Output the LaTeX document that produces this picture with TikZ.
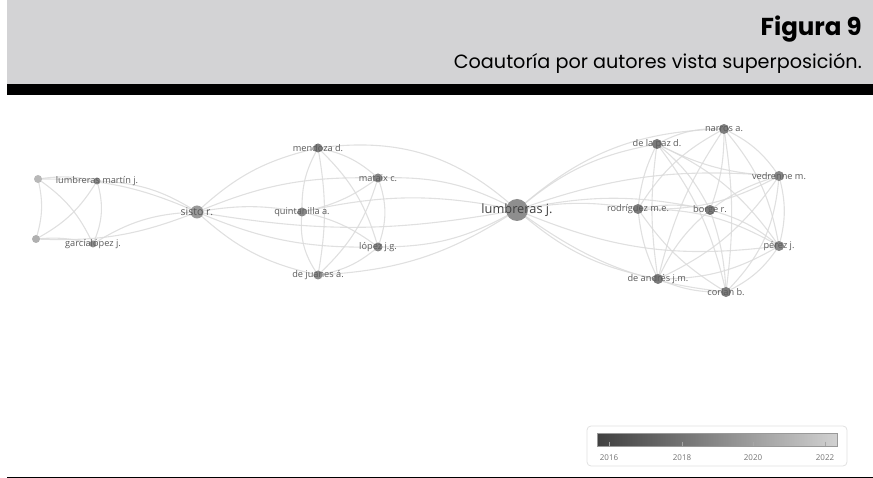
\documentclass[tikz,border=0pt]{standalone}
\usepackage{fontspec}
\setmainfont{Open Sans}
\newfontfamily\capfont{Poppins}
\usetikzlibrary{shadings}
\definecolor{band}{HTML}{D3D3D5}
\definecolor{edgec}{HTML}{DADADA}
\definecolor{labc}{HTML}{5A5A5A}
\tikzset{
  edge/.style={draw=edgec, line width=1.1pt, opacity=0.85},
  vnode/.style={circle, inner sep=0pt, minimum size=#1},
  vlabel/.style={font=\fontsize{9.2}{10}\selectfont, text=labc, inner sep=0pt},
}
\begin{document}
\begin{tikzpicture}[x=1pt,y=-1pt]
\useasboundingbox (0,0) rectangle (873,478);
% header
\fill[band] (7,0) rectangle (873,84);
\fill[black] (7,84) rectangle (873,95);
\draw[black, line width=1pt] (7,477.5) -- (873,477.5);
\node[anchor=base east, inner sep=0pt, font=\capfont\bfseries\fontsize{24.5}{28}\selectfont] (fig) at (862,36) {Figura 9};
\node[anchor=base east, inner sep=0pt, font=\capfont\fontsize{19.2}{22}\selectfont] (cap) at (862,69) {Coautoría por autores vista superposición.};
% node positions
\coordinate (A) at (38,179);
\coordinate (lmj) at (97,181);
\coordinate (B) at (36,239);
\coordinate (glj) at (93,244);
\coordinate (sis) at (197,212);
\coordinate (men) at (318,148);
\coordinate (mat) at (378,178);
\coordinate (qui) at (302,212);
\coordinate (lop) at (378,247);
\coordinate (dju) at (318,275);
\coordinate (luj) at (517,210);
\coordinate (nar) at (724,129);
\coordinate (dlp) at (657,144);
\coordinate (ved) at (779,176);
\coordinate (rod) at (638,209);
\coordinate (bor) at (710,210);
\coordinate (per) at (779,246);
\coordinate (dan) at (658,279);
\coordinate (cor) at (726,292);
% edges
\foreach \a/\b/\c in {A/lmj/10,A/B/15,A/glj/15,A/sis/12,lmj/B/15,lmj/glj/20,lmj/sis/15,B/glj/10,B/sis/-12,glj/sis/15,
  sis/men/15,sis/mat/12,sis/qui/10,sis/lop/-12,sis/dju/-15,sis/luj/-10,
  men/mat/15,men/qui/-15,men/lop/15,men/dju/10,men/luj/25,mat/qui/12,mat/lop/20,mat/dju/15,mat/luj/15,
  qui/lop/12,qui/dju/-20,qui/luj/12,lop/dju/15,lop/luj/-15,dju/luj/-15,
  luj/dlp/15,luj/nar/20,luj/rod/10,luj/bor/12,luj/dan/-15,luj/per/-15,luj/ved/12,luj/cor/-15,
  nar/dlp/-15,nar/ved/15,nar/rod/-15,nar/bor/10,nar/per/15,nar/dan/-10,nar/cor/8,
  dlp/ved/-12,dlp/rod/-10,dlp/bor/12,dlp/per/15,dlp/dan/-8,dlp/cor/12,
  ved/rod/15,ved/bor/-10,ved/per/15,ved/dan/15,ved/cor/20,
  rod/bor/12,rod/per/15,rod/dan/-10,rod/cor/-12,
  bor/per/12,bor/dan/-12,bor/cor/8,
  per/dan/15,per/cor/15,dan/cor/-12}
  {\draw[edge] (\a) to[bend left=\c] (\b);}
% node circles
\foreach \p/\s/\c in {A/8/B8B8B8,lmj/7/8A8A8A,B/8/B0B0B0,glj/7/8E8E8E,sis/13/9A9A9A,
  men/9/7C7C7C,mat/9/858585,qui/9/8A8A8A,lop/9/858585,dju/9/8C8C8C,luj/22/8E8E8E,
  nar/10/7E7E7E,dlp/10/7A7A7A,ved/10/878787,rod/10/7A7A7A,bor/10/7C7C7C,per/10/858585,dan/10/7A7A7A,cor/10/7C7C7C}
  {\definecolor{nc}{HTML}{\c}\node[vnode=\s pt, fill=nc] (c\p) at (\p) {};}
% labels
\node[vlabel] (llmj) at (lmj) {lumbreras martín j.};
\node[vlabel] (lglj) at (glj) {garcíalópez j.};
\node[vlabel, font=\fontsize{10.5}{11}\selectfont] (lsis) at (sis) {sisto r.};
\node[vlabel] (lmen) at (men) {mendoza d.};
\node[vlabel] (lmat) at (mat) {mataix c.};
\node[vlabel] (lqui) at (qui) {quintanilla a.};
\node[vlabel] (llop) at (lop) {lópez j.g.};
\node[vlabel] (ldju) at (dju) {de juanes á.};
\node[vlabel, font=\fontsize{12.8}{13}\selectfont, text=black!75] (lluj) at (luj) {lumbreras j.};
\node[vlabel] (lnar) at (nar) {narros a.};
\node[vlabel] (ldlp) at (dlp) {de la paz d.};
\node[vlabel] (lved) at (ved) {vedrenne m.};
\node[vlabel] (lrod) at (rod) {rodríguez m.e.};
\node[vlabel] (lbor) at (bor) {borge r.};
\node[vlabel] (lper) at (per) {pérez j.};
\node[vlabel] (ldan) at (dan) {de andrés j.m.};
\node[vlabel] (lcor) at (cor) {corlan b.};
% legend
\node[draw=black!12, rounded corners=4pt, line width=0.8pt, minimum width=260pt, minimum height=40pt, inner sep=0pt] (legbox) at (717,446) {};
\node[left color=black!75, right color=black!18, draw=black!40, minimum width=240pt, minimum height=13pt, inner sep=0pt] (bar) at (717,439.5) {};
\foreach \x/\t in {609/2016,682/2018,753/2020,825/2022}{
  \draw[black!35, line width=0.6pt] (\x,441.5) -- (\x,446);
  \node[font=\fontsize{8}{9}\selectfont, text=black!55, inner sep=0pt] (t\t) at (\x,458) {\t};
}
\end{tikzpicture}
\end{document}
